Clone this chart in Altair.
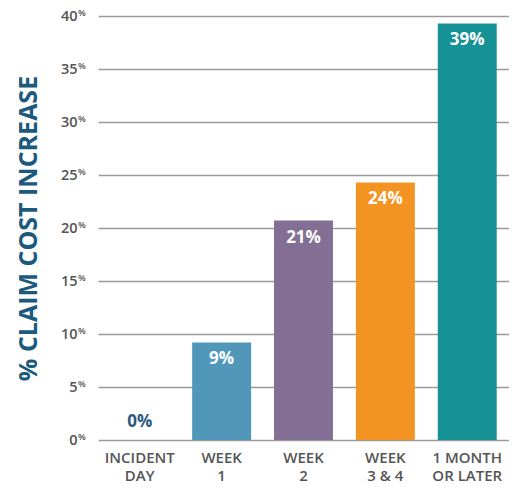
import altair as alt
import pandas as pd

categories = ["INCIDENT|DAY", "WEEK|1", "WEEK|2", "WEEK|3 & 4", "1 MONTH|OR LATER"]
values = [0.0, 9.2, 20.7, 24.3, 39.3]
labels = ["0%", "9%", "21%", "24%", "39%"]
colors = ["#2a5a80", "#5097b9", "#826f93", "#f39322", "#169196"]
ticks = [0, 5, 10, 15, 20, 25, 30, 35, 40]

df = pd.DataFrame({"cat": categories, "value": values, "label": labels})
tick_df = pd.DataFrame({"t": ticks, "pct": ["%"] * len(ticks)})

FONT = "Open Sans"

x_enc = alt.X(
    "cat:N", sort=categories, title=None,
    scale=alt.Scale(paddingInner=0.28, paddingOuter=0.15),
    axis=alt.Axis(
        labelExpr="split(datum.label, '|')", labelAngle=0, labelFontSize=15,
        labelFont=FONT, labelColor="#555555", labelFontWeight=600,
        labelLineHeight=18, labelPadding=10, ticks=False, domain=False, grid=False,
        labelBaseline="top",
    ),
)
y_scale = alt.Scale(domain=[0, 40], nice=False)

bars = alt.Chart(df).mark_bar().encode(
    x=x_enc,
    y=alt.Y(
        "value:Q", scale=y_scale, title="% CLAIM COST INCREASE",
        axis=alt.Axis(
            values=ticks, format="d", labelFontSize=14.5, labelFont=FONT,
            labelColor="#555555", labelFontWeight=600, labelPadding=21,
            ticks=False, domain=False, grid=True, gridColor="#9a9a9a",
            gridWidth=1.5, titleFont=FONT, titleFontSize=25,
            titleFontWeight="bold", titleColor="#1b5a7d", titlePadding=19,
        ),
    ),
    color=alt.Color("cat:N", sort=categories,
                    scale=alt.Scale(domain=categories, range=colors), legend=None),
)

inside = alt.Chart(df).transform_filter("datum.value > 0").mark_text(
    font=FONT, fontSize=17, fontWeight="bold", color="white",
    baseline="top", dy=9,
).encode(x=alt.X("cat:N", sort=categories), y=alt.Y("value:Q", scale=y_scale), text="label:N")

above = alt.Chart(df).transform_filter("datum.value == 0").mark_text(
    font=FONT, fontSize=17, fontWeight="bold", color="#2a5a80",
    baseline="bottom", dy=-9,
).encode(x=alt.X("cat:N", sort=categories), y=alt.Y("value:Q", scale=y_scale), text="label:N")

pct = alt.Chart(tick_df).mark_text(
    font=FONT, fontSize=9, fontWeight=600, color="#555555", align="left",
    baseline="middle", dy=-3,
).encode(x=alt.value(-20), y=alt.Y("t:Q", scale=y_scale), text="pct:N")

chart = alt.layer(bars, inside, above, pct).properties(
    width=411, height=424,
    autosize=alt.AutoSizeParams(type="none"),
    padding={"left": 90, "top": 8, "right": 0, "bottom": 52},
).configure_view(stroke=None)

chart.save("out.html", embed_options={"renderer": "svg", "actions": False})
